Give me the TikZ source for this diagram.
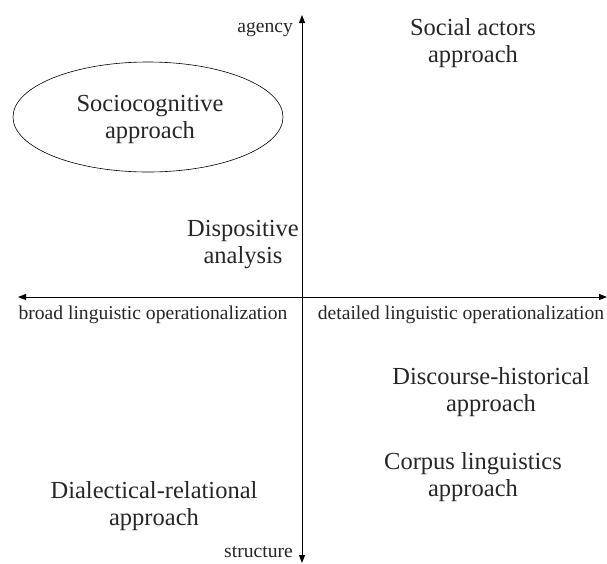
\documentclass[tikz,border=0pt]{standalone}
\usepackage{fontspec}
\setmainfont{Liberation Serif}
\usetikzlibrary{arrows.meta,shapes.geometric}
\begin{document}
\begin{tikzpicture}[x=1pt,y=-1pt,
  big/.style={align=center,inner sep=0pt,font=\fontsize{24.5}{27}\selectfont,text=black!85},
  small/.style={inner sep=0pt,font=\fontsize{19.6}{22}\selectfont,text=black!85},
  axis/.style={line width=0.9pt,-{Triangle[length=8pt,width=6pt]}}]
\useasboundingbox (0,0) rectangle (607,563);
\coordinate (o) at (302,297);
\coordinate (top) at (302,15);
\coordinate (bot) at (302,563);
\coordinate (lft) at (18,297);
\coordinate (rgt) at (607,297);
\draw[axis] (o) -- (top);
\draw[axis] (o) -- (bot);
\draw[axis] (o) -- (lft);
\draw[axis] (o) -- (rgt);
\node[small,anchor=east] (agency) at (293,30) {agency};
\node[small,anchor=east] (structure) at (293,552) {structure};
\node[small] (broad) at (153,315) {broad linguistic operationalization};
\node[small] (detailed) at (461,315) {detailed linguistic operationalization};
\node[draw,ellipse,line width=0.6pt,minimum width=270pt,minimum height=110pt,inner sep=0pt] (ell) at (148,117) {};
\node[big] (socio) at (150,119) {Sociocognitive\\approach};
\node[big] (social) at (473,43) {Social actors\\approach};
\node[big] (dispo) at (243,245) {Dispositive\\analysis};
\node[big] (dha) at (491,392) {Discourse-historical\\approach};
\node[big] (corpus) at (473,477) {Corpus linguistics\\approach};
\node[big] (dra) at (154,506) {Dialectical-relational\\approach};
\end{tikzpicture}
\end{document}
